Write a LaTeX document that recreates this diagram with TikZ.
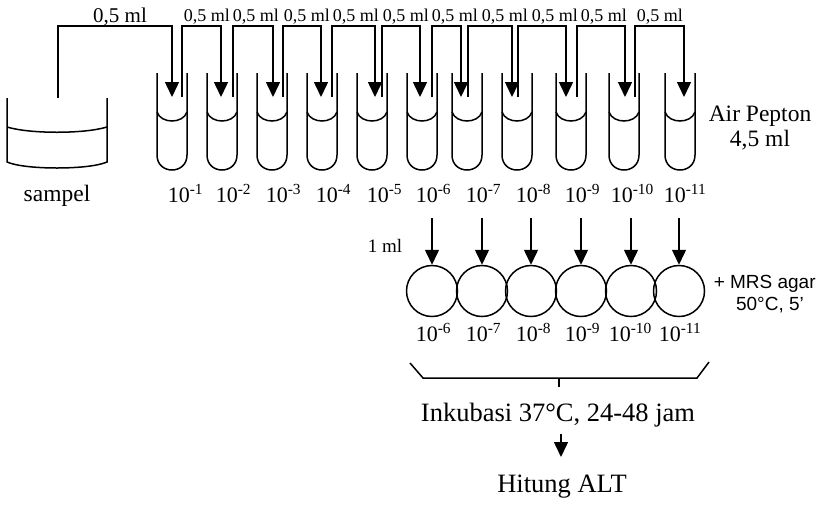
\documentclass[tikz,border=0pt]{standalone}
\usepackage{fontspec}
\setmainfont{Liberation Serif}
\newfontfamily\arialf{Liberation Sans}
\usetikzlibrary{arrows.meta}
\begin{document}
\begin{tikzpicture}[x=1pt,y=-1pt,line width=1.5pt,
  arr/.style={-{Triangle[width=14pt,length=15pt]}},
  lbl/.style={inner sep=0pt,font=\fontsize{22}{26}\selectfont},
  small/.style={inner sep=0pt,font=\fontsize{18}{21}\selectfont},
  big/.style={inner sep=0pt,font=\fontsize{26.5}{30}\selectfont},
  plate/.style={circle,draw,minimum size=51pt,inner sep=0pt}]
\useasboundingbox (0,0) rectangle (835,504);
% sample bowl
\draw (7,98) -- (7,162) .. controls (25,170) and (89,170) .. (107,162) -- (107,98);
\draw (7,127) .. controls (30,134) and (84,134) .. (107,127);
\node[inner sep=0pt,font=\fontsize{23.5}{27}\selectfont,anchor=base] (sampel) at (57,201) {sampel};
\coordinate (s0) at (58,98);
% tubes
\foreach \L in {157,207,257,307,357,407,452,502,556,609,665}{
  \draw (\L,73) -- (\L,155) .. controls (\L,175) and (\L+30,175) .. (\L+30,155) -- (\L+30,73);
  \draw (\L,112) .. controls (\L+4,124) and (\L+26,124) .. (\L+30,112);
}
% arrow targets in tubes
\foreach \a/\i in {172/1,221/2,273/3,321/4,375/5,420/6,461/7,512/8,566/9,625/10,684/11}{
  \coordinate (in\i) at (\a,97);
}
% first transfer
\draw[arr] (s0) -- (58,26) -| (in1);
\node[inner sep=0pt,font=\fontsize{21}{24}\selectfont,anchor=base] (v0) at (120,22) {0,5 ml};
% serial transfers
\foreach \u/\i/\j/\t in {182/1/2/183,233/2/3/232,283/3/4/283,332/4/5/332,382/5/6/382,432/6/7/431,468/7/8/481,518/8/9/531,577/9/10/580,635/10/11/636}{
  \coordinate (up\i) at (\u,97);
  \draw[arr] (up\i) -- (\u,26) -| (in\j);
  \node[small,anchor=base west] (v\i) at (\t,21) {0,5 ml};
}
% tube labels
\foreach \s/\e in {167/1,215/2,265/3,315/4,366/5,415/6,465/7,515/8,564/9,610/10,663/11}{
  \node[lbl,anchor=base west] (d\e) at (\s,202) {10\textsuperscript{-\e}};
}
\node[inner sep=0pt,font=\fontsize{23.5}{27}\selectfont,anchor=base] (ap1) at (760,121) {Air Pepton};
\node[inner sep=0pt,font=\fontsize{23.5}{27}\selectfont,anchor=base] (ap2) at (760,146) {4,5 ml};
% plates
\foreach \x/\e/\s in {432/6/415,482/7/465,531/8/515,581/9/564,631/10/608,679/11/658}{
  \node[plate] (p\e) at (\x,291) {};
  \coordinate (f\e) at (\x,218);
  \draw[arr] (f\e) -- (p\e.north);
  \node[lbl,anchor=base west] (q\e) at (\s,341) {10\textsuperscript{-\e}};
}
\node[inner sep=0pt,font=\fontsize{19}{22}\selectfont,anchor=base] (oneml) at (385,252) {1 ml};
\node[inner sep=0pt,font=\arialf\fontsize{19}{22}\selectfont,anchor=base west] (mrs) at (713,288) {+ MRS agar};
\node[inner sep=0pt,font=\arialf\fontsize{19}{22}\selectfont,anchor=base] (temp) at (770,310) {50°C, 5’};
% bracket
\coordinate (b1) at (410,363);
\coordinate (b2) at (423,378);
\coordinate (b3) at (697,378);
\coordinate (b4) at (709,362);
\coordinate (bm) at (559,378);
\draw (b1) -- (b2) -- (b3) -- (b4);
\draw (bm) -- (559,387);
\node[big,anchor=base] (inc) at (558,421) {Inkubasi 37°C, 24-48 jam};
\coordinate (h1) at (561,434);
\coordinate (h2) at (561,457);
\draw[arr] (h1) -- (h2);
\node[big,anchor=base] (alt) at (562,492) {Hitung ALT};
\end{tikzpicture}
\end{document}
